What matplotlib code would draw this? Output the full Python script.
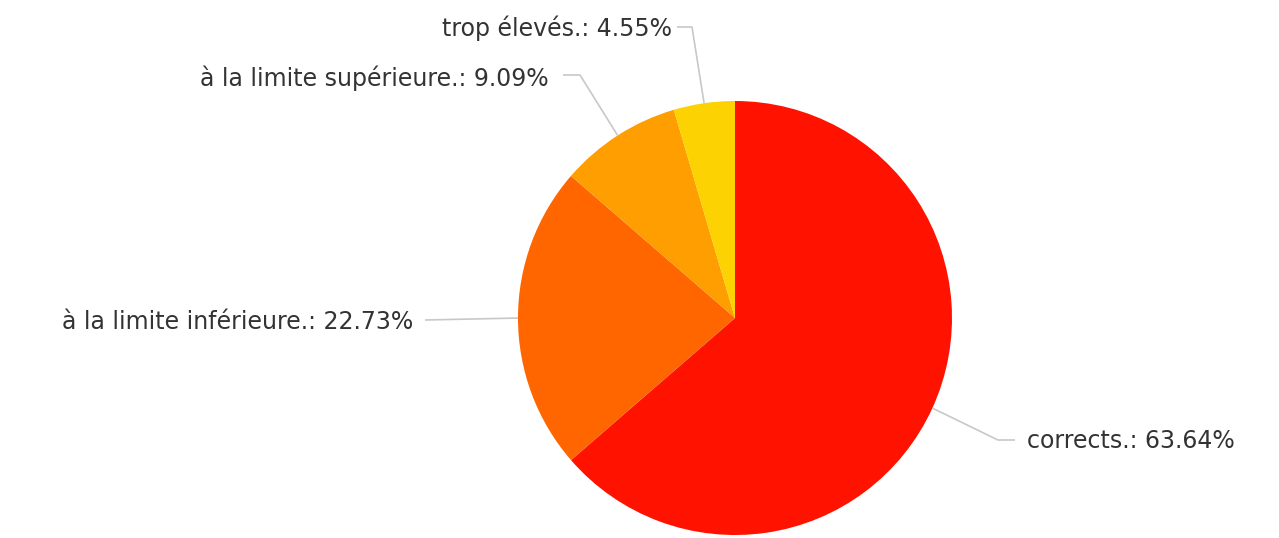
import matplotlib.pyplot as plt
import numpy as np

# données
labels = ['corrects.', 'à la limite inférieure.', 'à la limite supérieure.', 'trop élevés.']
values = [63.64, 22.73, 9.09, 4.55]
colors = ['#FF1300', '#FF6600', '#FF9E01', '#FCD202']

W, H = 1279, 538
fig = plt.figure(figsize=(W / 100, H / 100), dpi=100)
ax = fig.add_axes([0, 0, 1, 1])

cx, cy, r = 735, 318, 217
# y inversé -> counterclock=True donne le sens horaire à l'écran
wedges, _ = ax.pie(values, colors=colors, startangle=-90, counterclock=True,
                   center=(cx, cy), radius=r, frame=True,
                   wedgeprops=dict(linewidth=0))
ax.set_xlim(0, W)
ax.set_ylim(H, 0)
ax.set_aspect('equal')
ax.axis('off')

# position des étiquettes (coude de la ligne, position du texte, alignement)
elbows = [(998, 440), (425, 320), (580, 75), (692, 27)]
ends = [(1015, 440), (425, 320), (563, 75), (677, 27)]
texts = [(1027, 441, 'left'), (413, 322, 'right'), (549, 78, 'right'), (672, 28, 'right')]

total = sum(values)
cum = 0
for i, v in enumerate(values):
    mid = (cum + v / 2) / total
    cum += v
    ang = np.pi / 2 - 2 * np.pi * mid
    px = cx + r * np.cos(ang)
    py = cy - r * np.sin(ang)
    ax.plot([px, elbows[i][0], ends[i][0]], [py, elbows[i][1], ends[i][1]],
            color='#c8c8c8', lw=1.2, solid_capstyle='butt')
    tx, ty, ha = texts[i]
    ax.text(tx, ty, '%s: %.2f%%' % (labels[i], v), ha=ha, va='center',
            fontsize=17, color='#333333', family='DejaVu Sans')

fig.savefig('out.png', dpi=100, facecolor='white')
